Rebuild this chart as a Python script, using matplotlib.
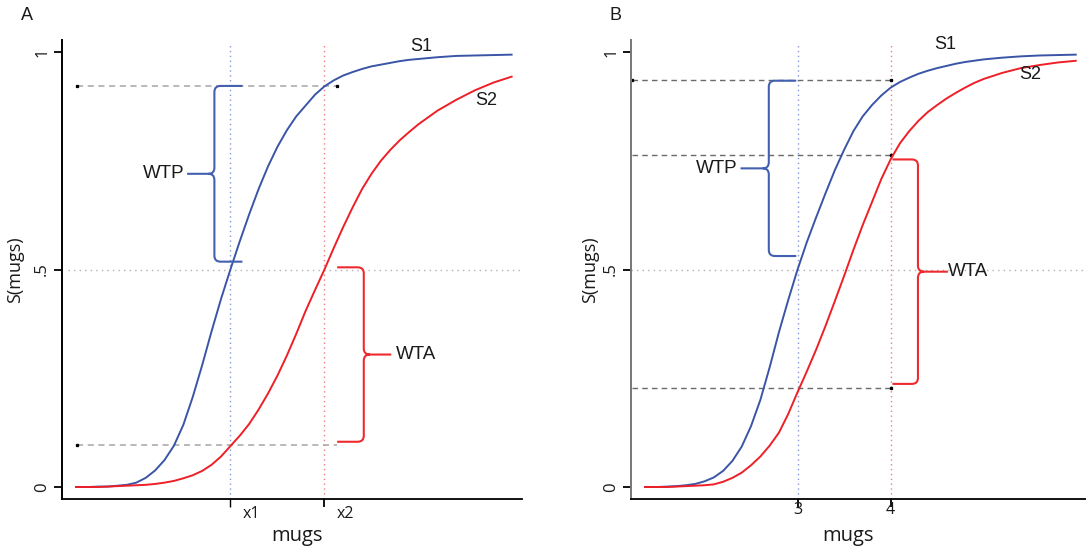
import matplotlib
matplotlib.use("Agg")
import matplotlib.pyplot as plt
from matplotlib.path import Path
from matplotlib.patches import PathPatch

# ---------------- data ----------------
x_grid = [1.35, 1.5, 1.6, 1.7, 1.8, 1.9, 2.0, 2.1, 2.2, 2.3,
          2.4, 2.5, 2.6, 2.7, 2.8, 2.9, 3.0, 3.1, 3.2, 3.3,
          3.4, 3.5, 3.6, 3.7, 3.8, 3.9, 4.0, 4.1, 4.2, 4.3,
          4.4, 4.5, 4.6, 4.7, 4.8, 4.9, 5.0, 5.2, 5.4, 5.6, 5.8, 6.0]

a_s1 = [0.0, 0.0, 0.001, 0.001, 0.003, 0.005, 0.010, 0.021, 0.038, 0.062,
        0.095, 0.143, 0.207, 0.28, 0.358, 0.432, 0.5, 0.565, 0.627, 0.685,
        0.737, 0.782, 0.82, 0.852, 0.877, 0.902, 0.921, 0.935, 0.946, 0.954,
        0.961, 0.967, 0.971, 0.975, 0.979, 0.982, 0.984, 0.988, 0.991, 0.992, 0.993, 0.994]
a_s2 = [0.0, 0.0, 0.0, 0.001, 0.002, 0.003, 0.004, 0.005, 0.007, 0.010,
        0.014, 0.020, 0.027, 0.037, 0.051, 0.07, 0.094, 0.118, 0.145, 0.178,
        0.215, 0.256, 0.302, 0.352, 0.405, 0.453, 0.5, 0.55, 0.598, 0.643,
        0.685, 0.72, 0.75, 0.775, 0.797, 0.816, 0.834, 0.865, 0.89, 0.912, 0.93, 0.944]

b_s1 = [0.0, 0.0, 0.001, 0.002, 0.004, 0.007, 0.013, 0.022, 0.037, 0.06,
        0.093, 0.14, 0.2, 0.275, 0.356, 0.43, 0.5, 0.563, 0.62, 0.675,
        0.728, 0.775, 0.818, 0.852, 0.878, 0.9, 0.918, 0.931, 0.941, 0.95,
        0.957, 0.963, 0.968, 0.973, 0.977, 0.98, 0.983, 0.987, 0.99, 0.992, 0.993, 0.994]
b_s2 = [0.0, 0.0, 0.0, 0.001, 0.002, 0.003, 0.004, 0.006, 0.012, 0.021,
        0.033, 0.05, 0.07, 0.095, 0.125, 0.168, 0.218, 0.266, 0.316, 0.37,
        0.427, 0.485, 0.545, 0.602, 0.655, 0.708, 0.753, 0.79, 0.818, 0.842,
        0.862, 0.878, 0.893, 0.906, 0.918, 0.929, 0.938, 0.952, 0.963, 0.97, 0.976, 0.98]

a_xticks = [3.0, 4.0]
a_xticklabels = ["x1", "x2"]
b_xticks = [3.0, 4.0]
b_xticklabels = ["3", "4"]
y_ticks = [0.0, 0.5, 1.0]
y_ticklabels = ["0", ".5", "1"]

a_levels = [0.922, 0.097]          # dashed guide levels, panel A
b_levels = [0.936, 0.763, 0.228]   # dashed guide levels, panel B

# ---------------- style ----------------
BLUE = "#3a55a6"
RED = "#ee1f26"
BBLUE = "#4360b0"
BRED = "#ee2a2e"
TXT = "#1a1a1a"
ANN_FONT = ["Liberation Sans", "DejaVu Sans"]
AX_FONT = ["Open Sans", "DejaVu Sans"]

fig = plt.figure(figsize=(10.86, 5.53), dpi=100)
W, H = 1086.0, 553.0
axA = fig.add_axes([62 / W, (H - 499) / H, 460 / W, 459 / H])
axB = fig.add_axes([631 / W, (H - 499) / H, 455 / W, 459 / H])


def brace(ax, xs, xa, xt, ytop, ybot, color, dx=0.065, dy=0.014):
    ymid = (ytop + ybot) / 2.0
    s = 1 if xa > xs else -1
    verts = [(xa, ytop), (xs + s * dx, ytop), (xs, ytop), (xs, ytop - dy),
             (xs, ymid + dy), (xs, ymid), (xs - s * dx, ymid), (xt, ymid),
             (xs - s * dx, ymid), (xs, ymid), (xs, ymid - dy),
             (xs, ybot + dy), (xs, ybot), (xs + s * dx, ybot), (xa, ybot)]
    codes = [Path.MOVETO, Path.LINETO, Path.CURVE3, Path.CURVE3,
             Path.LINETO, Path.CURVE3, Path.CURVE3, Path.LINETO,
             Path.MOVETO, Path.CURVE3, Path.CURVE3,
             Path.LINETO, Path.CURVE3, Path.CURVE3, Path.LINETO]
    ax.add_patch(PathPatch(Path(verts, codes), fill=False, edgecolor=color,
                           lw=1.5, capstyle="butt", joinstyle="round", zorder=4))
    return ymid


def setup(ax, spine_color):
    ax.set_xlim(1.21, 6.10)
    ax.set_ylim(-0.0276, 1.0276)
    for side in ("top", "right"):
        ax.spines[side].set_visible(False)
    ax.spines["left"].set_color(spine_color)
    ax.spines["left"].set_linewidth(1.4)
    ax.spines["bottom"].set_color("black")
    ax.spines["bottom"].set_linewidth(1.3)
    ax.set_yticks(y_ticks)
    ax.set_yticklabels(y_ticklabels, rotation=90, va="center",
                       family=AX_FONT, fontsize=12, color=TXT)
    ax.tick_params(axis="y", length=5.5, width=1.3, pad=3, color="black")
    ax.tick_params(axis="x", length=6, width=1.3, color="black")
    ax.set_xticklabels([])
    ax.set_ylabel("S(mugs)", family=AX_FONT, fontsize=13, color=TXT)
    ax.set_xlabel("mugs", family=AX_FONT, fontsize=14.5, color=TXT)


def curves(ax, s1, s2):
    ax.plot(x_grid, s1, color=BLUE, lw=1.4, zorder=3,
            solid_capstyle="butt", solid_joinstyle="round")
    ax.plot(x_grid, s2, color=RED, lw=1.4, zorder=3,
            solid_capstyle="butt", solid_joinstyle="round")


# ---------------- panel A ----------------
ax = axA
setup(ax, "black")
ax.set_xticks(a_xticks)
ax.get_xticklines()[0].set_color("#888888")
ax.get_xticklines()[0].set_markeredgewidth(1.0)
for xv, lab in zip(a_xticks, a_xticklabels):
    ax.annotate(lab, xy=(xv, 0), xycoords=("data", "axes fraction"),
                xytext=(15, -11), textcoords="offset points",
                ha="center", va="center", family=AX_FONT, fontsize=11.5, color=TXT)
ax.yaxis.set_label_coords(-0.083, 0.5)
ax.xaxis.set_label_coords(0.511, -0.058)

ax.axhline(0.5, xmin=0.012, xmax=0.996, color="#b0b0b0", lw=1.0, ls=(0, (1, 3)), zorder=1)
ax.axvline(a_xticks[0], ymin=0, ymax=0.995, color="#8595d8", lw=1.0, ls=(0, (1, 2.5)), zorder=1)
ax.axvline(a_xticks[1], ymin=0, ymax=0.995, color="#f07b7b", lw=1.0, ls=(0, (1, 2.5)), zorder=1)
for lv in a_levels:
    ax.plot([1.37, 4.13], [lv, lv], color="#a5a5a5", lw=1.1, ls=(0, (4, 3)), zorder=1)
    ax.plot([1.37], [lv], marker="s", ms=1.4, color="black", zorder=2)
ax.plot([4.13], [a_levels[0]], marker="s", ms=1.4, color="black", zorder=2)

curves(ax, a_s1, a_s2)

ym = brace(ax, 2.83, 3.128, 2.54, 0.922, 0.518, BBLUE)
ax.text(2.51, ym, "WTP", ha="right", va="center", family=ANN_FONT, fontsize=13.5, color=TXT)
ym = brace(ax, 4.418, 4.135, 4.71, 0.505, 0.104, BRED)
ax.text(4.755, ym, "WTA", ha="left", va="center", family=ANN_FONT, fontsize=13.5, color=TXT)
ax.text(3 + (421 - 230) / 94, (487 - 46) / 435, "S1", ha="center", va="center",
        family=ANN_FONT, fontsize=13, color=TXT)
ax.text(3 + (486 - 230) / 94, (487 - 100) / 435, "S2", ha="center", va="center",
        family=ANN_FONT, fontsize=13, color=TXT)

# ---------------- panel B ----------------
ax = axB
setup(ax, "#777777")
ax.set_xticks(b_xticks)
for xv, lab in zip(b_xticks, b_xticklabels):
    ax.annotate(lab, xy=(xv, 0), xycoords=("data", "axes fraction"),
                xytext=(0, -8), textcoords="offset points",
                ha="center", va="center", family=AX_FONT, fontsize=11.5, color=TXT)
ax.yaxis.set_label_coords(-0.070, 0.5)
ax.xaxis.set_label_coords(0.477, -0.058)

ax.axhline(0.5, xmin=0.0, xmax=0.994, color="#b0b0b0", lw=1.0, ls=(0, (1, 3)), zorder=1)
ax.axvline(b_xticks[0], ymin=0, ymax=0.995, color="#8595d8", lw=1.0, ls=(0, (1, 2.5)), zorder=1)
ax.axvline(b_xticks[1], ymin=0, ymax=0.995, color="#f07b7b", lw=1.0, ls=(0, (1, 2.5)), zorder=1)
for lv in b_levels:
    ax.plot([1.225, 4.0], [lv, lv], color="#6a6a6a", lw=1.0, ls=(0, (4, 3)), zorder=1)
    ax.plot([4.0], [lv], marker="s", ms=1.4, color="black", zorder=2)
ax.plot([1.225], [b_levels[0]], marker="s", ms=1.4, color="black", zorder=2)

curves(ax, b_s1, b_s2)

ym = brace(ax, 2.691, 2.986, 2.387, 0.934, 0.531, BBLUE)
ax.text(2.36, ym, "WTP", ha="right", va="center", family=ANN_FONT, fontsize=13.5, color=TXT)
ym = brace(ax, 4.294, 4.02, 4.616, 0.753, 0.237, BRED)
ax.text(4.62, ym, "WTA", ha="left", va="center", family=ANN_FONT, fontsize=13.5, color=TXT)
ax.text(3 + (946 - 798) / 93, (487 - 44) / 435, "S1", ha="center", va="center",
        family=ANN_FONT, fontsize=13, color=TXT)
ax.text(3 + (1031 - 798) / 93, (487 - 74) / 435, "S2", ha="center", va="center",
        family=ANN_FONT, fontsize=13, color=TXT)

# ---------------- panel letters ----------------
fig.text(27 / W, 1 - 15 / H, "A", ha="center", va="center", family=ANN_FONT, fontsize=13, color=TXT)
fig.text(615 / W, 1 - 15 / H, "B", ha="center", va="center", family=ANN_FONT, fontsize=13, color=TXT)

fig.savefig("out.png", dpi=100)
